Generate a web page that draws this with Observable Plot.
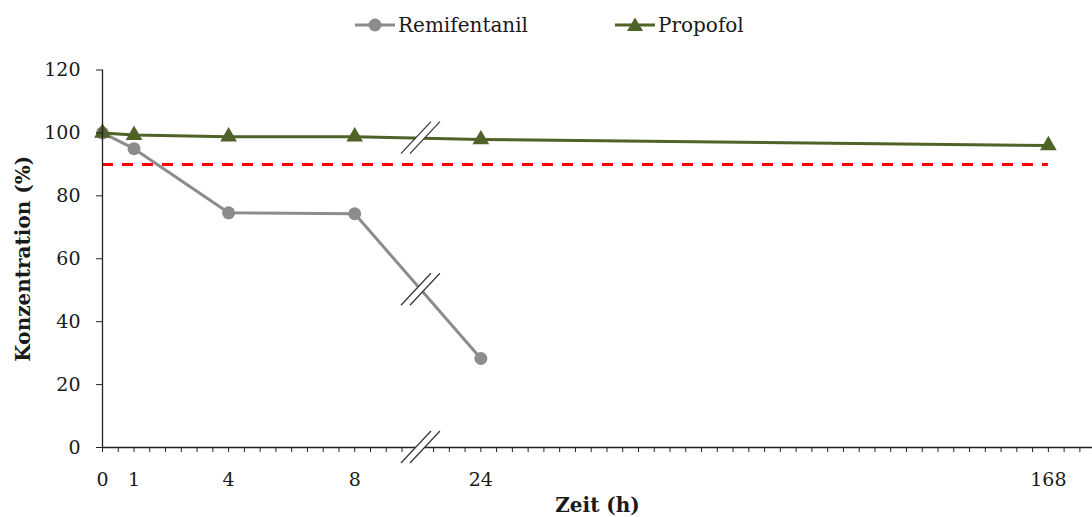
<!DOCTYPE html>
<html>
<head>
<meta charset="utf-8">
<script src="https://cdn.jsdelivr.net/npm/d3@7"></script>
<script src="https://cdn.jsdelivr.net/npm/@observablehq/plot@0.6"></script>
<style>
  body { margin: 0; background: #fff; font-family: "DejaVu Serif", serif; }
  #legend { position: relative; height: 45px; width: 1092px; }
  .item { position: absolute; top: 11px; display: flex; align-items: center; font-size: 20px; color: #1a1a1a; height: 28px; }
  .item svg { margin-right: 3px; }
</style>
</head>
<body>
<div id="legend"></div>
<div id="chart"></div>
<script>
// ---- data ----
const timeLabels = ["0", "1", "4", "8", "24", "168"];   // Zeit (h)
const xPositions = [0, 1, 4, 8, 12, 30];                 // position on the broken axis
const remifentanil = [100, 95.0, 74.6, 74.3, 28.3];     // %
const propofol = [100, 99.3, 98.8, 98.8, 97.9, 96.0];   // %
const threshold = 90;
const yTicks = [0, 20, 40, 60, 80, 100, 120];
const breakAt = 10.1;                                    // axis break position
const seriesNames = ["Remifentanil", "Propofol"];
const colors = {Remifentanil: "#8c8c8c", Propofol: "#4f6228"};

const rows = [];
remifentanil.forEach((v, i) => rows.push({series: "Remifentanil", pos: xPositions[i], value: v}));
propofol.forEach((v, i) => rows.push({series: "Propofol", pos: xPositions[i], value: v}));
const remi = rows.filter(d => d.series === "Remifentanil");
const prop = rows.filter(d => d.series === "Propofol");

// interpolated value of a series at the break position
function valueAt(vals, x) {
  for (let i = 0; i < vals.length - 1; i++) {
    const x0 = xPositions[i], x1 = xPositions[i + 1];
    if (x >= x0 && x <= x1) return vals[i] + (vals[i + 1] - vals[i]) * (x - x0) / (x1 - x0);
  }
  return null;
}
const breakYs = [0, valueAt(remifentanil, breakAt), valueAt(propofol, breakAt)];

const minorTicks = d3.range(0, 31.01, 0.5);

// ---- legend ----
const legend = document.getElementById("legend");
const legendLeft = [355, 615];
seriesNames.forEach((name, k) => {
  const item = document.createElement("div");
  item.className = "item";
  item.style.left = legendLeft[k] + "px";
  const sym = name === "Remifentanil"
    ? `<circle cx="20" cy="14" r="6.5" fill="${colors[name]}"/>`
    : `<path d="M20,6.5 L28,20 L12,20 Z" fill="${colors[name]}"/>`;
  item.innerHTML = `<svg width="40" height="28"><line x1="0" x2="40" y1="14" y2="14" stroke="${colors[name]}" stroke-width="3"/>${sym}</svg><span>${name}</span>`;
  legend.appendChild(item);
});

// ---- break marks (render-function mark using the plot's scales) ----
function breakMarks(index, scales) {
  const g = d3.create("svg:g");
  const cx = scales.x(breakAt);
  for (const v of breakYs) {
    const cy = scales.y(v);
    const hx = 15, hy = 16, off = 4.5;
    g.append("path")
      .attr("d", `M${cx - off - hx},${cy + hy} L${cx - off + hx},${cy - hy} L${cx + off + hx},${cy - hy} L${cx + off - hx},${cy + hy} Z`)
      .attr("fill", "#fff");
    for (const o of [-off, off]) {
      g.append("line")
        .attr("x1", cx + o - hx).attr("y1", cy + hy)
        .attr("x2", cx + o + hx).attr("y2", cy - hy)
        .attr("stroke", "#333").attr("stroke-width", 1.2);
    }
  }
  return g.node();
}

const chart = Plot.plot({
  width: 1092,
  height: 472,
  marginLeft: 102,
  marginRight: 0,
  marginTop: 24.5,
  marginBottom: 70,
  x: {domain: [0, 31.4]},
  y: {domain: [0, 120]},
  style: {fontFamily: "DejaVu Serif", fontSize: "19px", color: "#1a1a1a", background: "#fff"},
  marks: [
    Plot.ruleY([threshold], {x1: xPositions[0], x2: xPositions[xPositions.length - 1], stroke: "#ff0000", strokeWidth: 3, strokeDasharray: "11,9"}),
    Plot.line(remi, {x: "pos", y: "value", stroke: colors.Remifentanil, strokeWidth: 3}),
    Plot.dot(remi, {x: "pos", y: "value", r: 6.5, fill: colors.Remifentanil, stroke: "none"}),
    Plot.line(prop, {x: "pos", y: "value", stroke: colors.Propofol, strokeWidth: 3}),
    Plot.dot(prop, {x: "pos", y: "value", symbol: "triangle", r: 6.2, fill: colors.Propofol, stroke: "none"}),
    Plot.ruleY([0], {stroke: "#222", strokeWidth: 1.3}),
    Plot.ruleX([0], {y1: yTicks[0], y2: yTicks[yTicks.length - 1], stroke: "#222", strokeWidth: 1.3}),
    Plot.axisY({ticks: yTicks, tickSize: 6, tickPadding: 16, label: null, stroke: "#222"}),
    Plot.axisX({ticks: minorTicks, tickSize: 5, tickFormat: () => "", label: null, stroke: "#222"}),
    Plot.axisX({ticks: xPositions, tickSize: 0, tickPadding: 25, label: null, tickFormat: d => timeLabels[xPositions.indexOf(d)]}),
    breakMarks,
    Plot.text(["Zeit (h)"], {frameAnchor: "bottom", text: d => d, dy: 58, fontWeight: "bold", fontSize: 20, lineAnchor: "middle"}),
    Plot.text(["Konzentration (%)"], {frameAnchor: "left", text: d => d, dx: -79, rotate: -90, fontWeight: "bold", fontSize: 20, lineAnchor: "middle", textAnchor: "middle"})
  ]
});
document.getElementById("chart").appendChild(chart);
</script>
</body>
</html>
